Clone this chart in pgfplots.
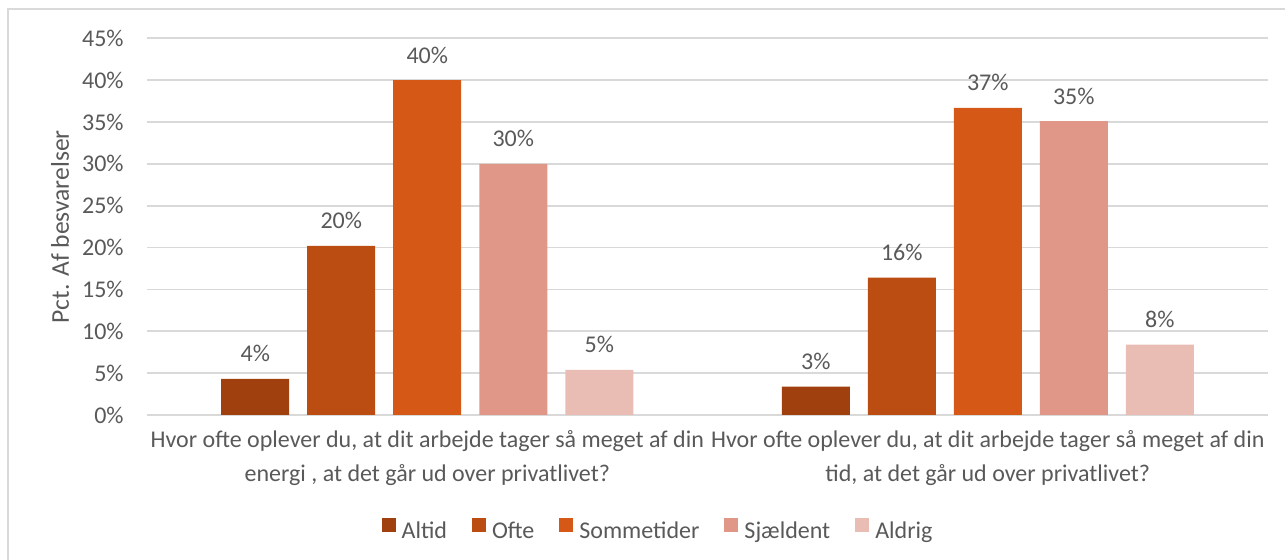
\documentclass[border=0pt]{standalone}
\usepackage{fontspec}
\setmainfont{Carlito}
\usepackage{pgfplots}
\pgfplotsset{compat=1.18}

\definecolor{altid}{HTML}{A0400F}
\definecolor{ofte}{HTML}{BB4C12}
\definecolor{somme}{HTML}{D55817}
\definecolor{sjaeld}{HTML}{E09788}
\definecolor{aldrig}{HTML}{EABDB4}
\definecolor{gridgray}{HTML}{D9D9D9}
\definecolor{textgray}{HTML}{595959}

\begin{document}
\begin{tikzpicture}
  \begin{axis}[
      name=main,
      at={(0,0)}, anchor=south west,
      scale only axis,
      width=560.5pt, height=188.35pt,
      ybar=9pt,
      bar width=34pt,
      xmin=-0.5, xmax=1.5,
      ymin=0, ymax=45,
      xtick={0,1},
      xticklabels={
        {Hvor ofte oplever du, at dit arbejde tager så meget af din\\energi , at det går ud over privatlivet?},
        {Hvor ofte oplever du, at dit arbejde tager så meget af din\\tid, at det går ud over privatlivet?}},
      ytick={0,5,...,45},
      yticklabel={\pgfmathprintnumber{\tick}\%},
      /pgf/number format/assume math mode=true,
      major tick length=0pt,
      axis x line*=bottom,
      axis y line*=left,
      y axis line style={draw=none},
      x axis line style={draw=gridgray, line width=0.9pt},
      ymajorgrids,
      major grid style={draw=gridgray, line width=0.9pt},
      tick label style={font=\fontsize{12}{17}\selectfont, text=textgray},
      xticklabel style={align=center, anchor=base, inner sep=0pt, yshift=-33.5pt},
      yticklabel style={anchor=east, inner sep=0pt, xshift=-11.5pt},
      ylabel={Pct. Af besvarelser},
      ylabel style={font=\fontsize{12.8}{14}\selectfont, text=textgray,
        at={(axis description cs:-0.0776,0.5)}, anchor=center},
      nodes near coords={\pgfmathprintnumber[fixed,precision=0]{\pgfplotspointmeta}\%},
      every node near coord/.append style={font=\fontsize{12}{14}\selectfont,
        text=textgray, anchor=base, inner sep=0pt, yshift=8.5pt},
      legend columns=5,
      legend style={at={(axis description cs:0.455,-0.305)}, anchor=center,
        draw=none, fill=none, inner sep=0pt, row sep=0pt, column sep=0pt,
        font=\fontsize{12}{14}\selectfont, text=textgray,
        nodes={inner sep=0pt},
        /tikz/every odd column/.append style={column sep=3pt},
        /tikz/every even column/.append style={column sep=12.5pt}},
      legend image code/.code={\fill[#1,draw=none] (0pt,0pt) rectangle (7pt,7pt);},
    ]
    \addplot[fill=altid, draw=none] coordinates {(0,4.3) (1,3.4)};
    \addplot[fill=ofte, draw=none] coordinates {(0,20.2) (1,16.4)};
    \addplot[fill=somme, draw=none] coordinates {(0,40.0) (1,36.7)};
    \addplot[fill=sjaeld, draw=none] coordinates {(0,30.0) (1,35.1)};
    \addplot[fill=aldrig, draw=none] coordinates {(0,5.4) (1,8.4)};
    \legend{Altid, Ofte, Sommetider, Sjældent, Aldrig}
  \end{axis}
  % chart frame (left and top edges visible)
  \draw[gridgray, line width=0.9pt] (-69.5pt,-80pt) -- (-69.5pt,203pt) -- (600pt,203pt);
  \pgfresetboundingbox
  \path[use as bounding box] (-73.5pt,-72.5pt) rectangle (569pt,207.5pt);
\end{tikzpicture}
\end{document}
